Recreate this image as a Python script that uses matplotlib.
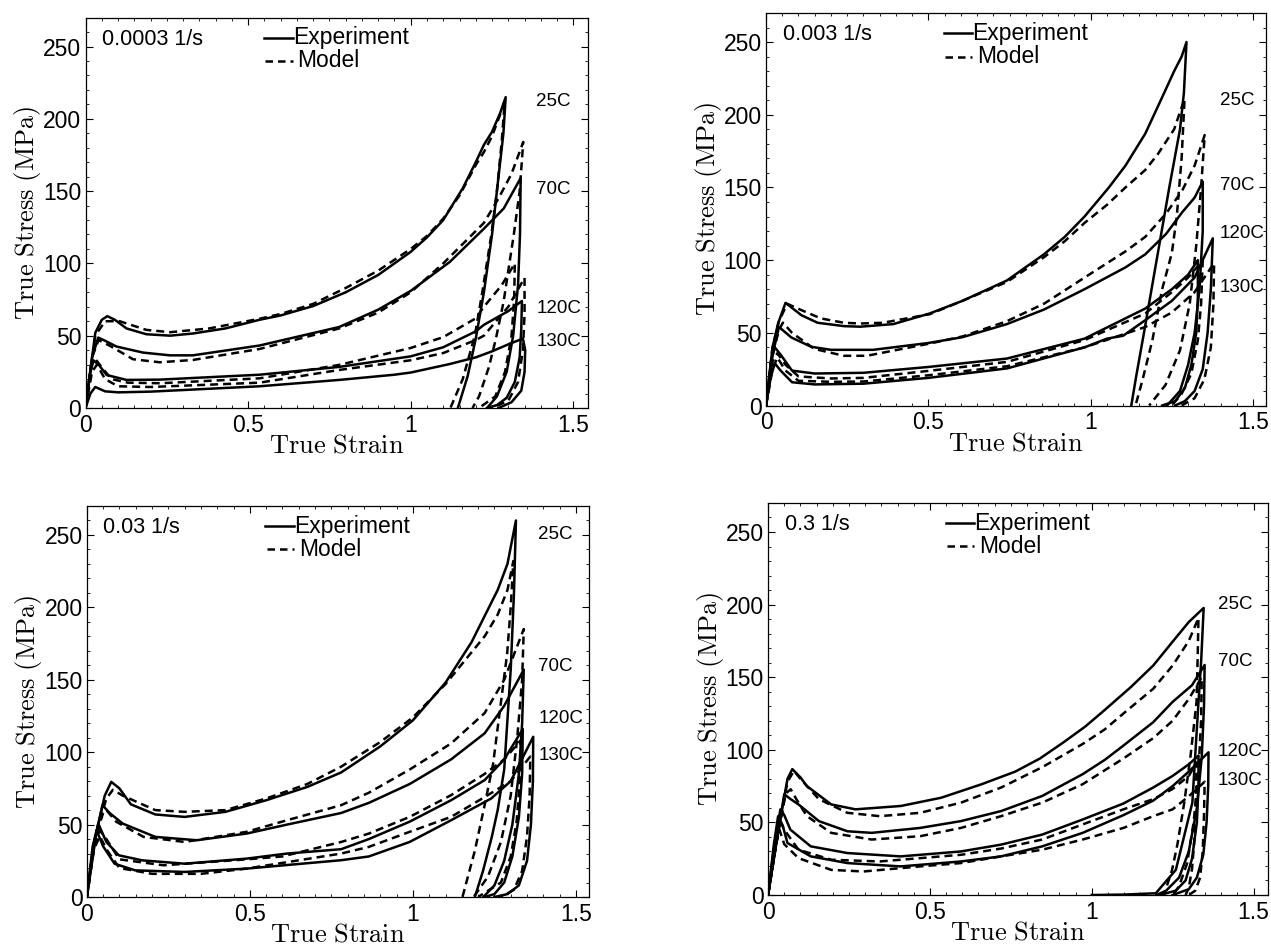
import matplotlib
matplotlib.use("Agg")
import matplotlib.pyplot as plt
from matplotlib.ticker import MultipleLocator
from matplotlib.transforms import blended_transform_factory

plt.rcParams["font.family"] = ["Liberation Sans", "DejaVu Sans"]
plt.rcParams["mathtext.fontset"] = "cm"

RATES = ["0.0003 1/s", "0.003 1/s", "0.03 1/s", "0.3 1/s"]
TEMPS = ["25C", "70C", "120C", "130C"]

# ── 0.0003 1/s ───────────────────────────────────────────────────────────────
P1_EXP_25C = [(0, 0), (0.03, 52), (0.05, 61), (0.067, 63.5), (0.09, 61), (0.126, 55), (0.187, 51),
              (0.26, 50), (0.33, 51.5), (0.43, 55), (0.535, 61), (0.6, 64), (0.7, 70.5), (0.8, 80),
              (0.9, 92), (1.0, 108), (1.05, 118), (1.1, 130), (1.16, 152), (1.2, 170), (1.225, 182),
              (1.25, 191), (1.275, 204), (1.292, 215),
              (1.285, 190), (1.27, 160), (1.25, 120), (1.225, 80), (1.2, 48), (1.175, 22), (1.145, 0)]
P1_MOD_25C = [(0, 0), (0.03, 50), (0.06, 60), (0.105, 60), (0.187, 54), (0.26, 52.4), (0.38, 55),
              (0.535, 61.7), (0.6, 65), (0.7, 72), (0.8, 83), (0.9, 95), (1.0, 110), (1.05, 119),
              (1.1, 131), (1.15, 147), (1.2, 168), (1.225, 177), (1.25, 188), (1.275, 203), (1.289, 212),
              (1.28, 185), (1.265, 150), (1.248, 120), (1.22, 80), (1.197, 50), (1.16, 20), (1.122, 0)]
P1_EXP_70C = [(0, 0), (0.02, 35), (0.039, 48.7), (0.06, 46.5), (0.095, 42.5), (0.177, 38.3),
              (0.26, 36.4), (0.33, 36.4), (0.535, 43.2), (0.78, 56), (0.9, 68), (1.0, 81),
              (1.12, 101), (1.225, 124), (1.286, 138), (1.338, 159),
              (1.336, 120), (1.33, 85), (1.315, 50), (1.295, 25), (1.265, 8), (1.235, 0)]
P1_MOD_70C = [(0, 0), (0.02, 35), (0.04, 47), (0.075, 43), (0.146, 33.7), (0.228, 31.6), (0.33, 33.2),
              (0.535, 40.8), (0.78, 55), (0.9, 66), (1.0, 80), (1.1, 100), (1.225, 128), (1.27, 145),
              (1.31, 162), (1.346, 184),
              (1.335, 150), (1.317, 120), (1.3, 95), (1.286, 74), (1.262, 48), (1.24, 28), (1.21, 8),
              (1.19, 0)]
P1_EXP_120C = [(0, 0), (0.015, 25), (0.024, 33), (0.04, 30), (0.065, 22.8), (0.126, 19.4), (0.228, 19.6),
               (0.535, 23), (0.78, 28.4), (1.0, 35.7), (1.1, 42), (1.2, 53), (1.225, 57.5), (1.3, 67),
               (1.342, 74),
               (1.34, 55), (1.335, 35), (1.32, 18), (1.295, 7), (1.265, 2), (1.235, 0)]
P1_MOD_120C = [(0, 0), (0.02, 30), (0.03, 34), (0.05, 28), (0.08, 20), (0.13, 17.5), (0.23, 17.1),
               (0.535, 20.5), (0.78, 29.8), (1.0, 41.5), (1.1, 49), (1.2, 62), (1.225, 70), (1.28, 85),
               (1.32, 100),
               (1.318, 75), (1.31, 50), (1.29, 25), (1.26, 8), (1.21, 0)]
P1_EXP_130C = [(0, 0), (0.015, 10), (0.03, 14.5), (0.06, 11.5), (0.1, 10.8), (0.2, 11.3), (0.535, 15),
               (0.78, 19.4), (0.95, 23), (1.0, 24.5), (1.12, 30.4), (1.2, 35), (1.248, 39), (1.3, 44),
               (1.345, 48),
               (1.352, 40), (1.35, 25), (1.34, 12), (1.31, 4), (1.27, 0)]
P1_MOD_130C = [(0, 0), (0.02, 25), (0.035, 30), (0.06, 20), (0.1, 15), (0.2, 14.5), (0.535, 17.5),
               (0.78, 26.3), (1.0, 33), (1.1, 38), (1.2, 47), (1.225, 50), (1.3, 70), (1.35, 90),
               (1.35, 65), (1.345, 40), (1.33, 18), (1.3, 5), (1.25, 0)]

# ── 0.003 1/s ────────────────────────────────────────────────────────────────
P2_EXP_25C = [(0, 0), (0.02, 40), (0.037, 56.4), (0.06, 70.6), (0.109, 62.1), (0.159, 56.9), (0.24, 54.6),
              (0.29, 54.2), (0.392, 56), (0.504, 63.3), (0.605, 72), (0.742, 86), (0.856, 104),
              (0.92, 116), (0.981, 130), (1.056, 150), (1.107, 165), (1.168, 187), (1.22, 212),
              (1.257, 230), (1.28, 240), (1.295, 250),
              (1.287, 215), (1.275, 190), (1.242, 150), (1.203, 100), (1.164, 50), (1.14, 20), (1.125, 0)]
P2_MOD_25C = [(0, 0), (0.02, 40), (0.04, 58), (0.065, 70), (0.109, 65.6), (0.169, 59.9), (0.24, 56.9),
              (0.29, 56.4), (0.36, 56.9), (0.504, 62.8), (0.605, 72), (0.742, 85), (0.856, 102),
              (0.92, 113), (0.981, 125.6), (1.05, 138), (1.107, 150), (1.168, 162), (1.207, 173),
              (1.257, 190), (1.289, 211),
              (1.28, 170), (1.265, 130), (1.25, 105), (1.22, 80), (1.19, 45), (1.16, 18), (1.138, 0)]
P2_EXP_70C = [(0, 0), (0.02, 35), (0.04, 54), (0.078, 46.8), (0.139, 40.4), (0.2, 38.3), (0.33, 38.3),
              (0.5, 43), (0.605, 47), (0.742, 56), (0.856, 66), (0.981, 80), (1.107, 95), (1.168, 104),
              (1.232, 118), (1.282, 133), (1.32, 143), (1.345, 154),
              (1.345, 120), (1.335, 80), (1.32, 50), (1.3, 28), (1.275, 10), (1.235, 0)]
P2_MOD_70C = [(0, 0), (0.02, 35), (0.04, 52), (0.052, 57), (0.08, 50), (0.149, 38.9), (0.24, 34.2),
              (0.31, 34.2), (0.504, 42.6), (0.605, 47.5), (0.742, 58), (0.856, 70), (0.981, 88),
              (1.107, 106), (1.168, 116), (1.232, 132), (1.282, 148), (1.32, 165), (1.351, 186),
              (1.34, 150), (1.325, 110), (1.305, 70), (1.275, 38), (1.23, 14), (1.18, 0)]
P2_EXP_120C = [(0, 0), (0.015, 30), (0.027, 40), (0.045, 35), (0.08, 24), (0.15, 22), (0.3, 22.5),
               (0.5, 26.5), (0.742, 32.3), (0.981, 46), (1.168, 66.7), (1.25, 80), (1.3, 90), (1.33, 100),
               (1.33, 75), (1.325, 50), (1.31, 28), (1.29, 12), (1.26, 3), (1.22, 0)]
P2_MOD_120C = [(0, 0), (0.02, 30), (0.035, 36), (0.06, 28), (0.1, 20), (0.2, 18.6), (0.3, 19),
               (0.5, 23.8), (0.742, 30), (0.981, 45), (1.168, 63.3), (1.25, 78), (1.3, 88), (1.345, 100),
               (1.34, 70), (1.33, 45), (1.31, 22), (1.28, 8), (1.25, 0)]
P2_EXP_130C = [(0, 0), (0.015, 20), (0.027, 29), (0.045, 24), (0.08, 16), (0.15, 14.5), (0.3, 15),
               (0.5, 19), (0.742, 25.5), (0.981, 40), (1.05, 46), (1.1, 48), (1.168, 58.7), (1.25, 72),
               (1.32, 88), (1.376, 115),
               (1.37, 80), (1.36, 50), (1.345, 25), (1.32, 10), (1.29, 3), (1.26, 0)]
P2_MOD_130C = [(0, 0), (0.02, 25), (0.035, 33), (0.06, 24), (0.1, 17), (0.2, 16.3), (0.3, 16.5),
               (0.5, 20.8), (0.742, 27), (0.981, 40), (1.168, 54), (1.25, 64), (1.32, 78), (1.38, 98),
               (1.378, 70), (1.37, 40), (1.35, 18), (1.32, 5), (1.28, 0)]

# ── 0.03 1/s ─────────────────────────────────────────────────────────────────
P3_EXP_25C = [(0, 0), (0.03, 45), (0.055, 70), (0.075, 79.5), (0.1, 75), (0.135, 64), (0.21, 57),
              (0.3, 55.3), (0.425, 58.8), (0.55, 66.8), (0.676, 76), (0.78, 86), (0.9, 104), (1.0, 122),
              (1.1, 148), (1.18, 176), (1.22, 194), (1.26, 212), (1.29, 230), (1.316, 260),
              (1.31, 210), (1.3, 157), (1.28, 88), (1.26, 60), (1.242, 41.5), (1.215, 18), (1.19, 0)]
P3_MOD_25C = [(0, 0), (0.03, 45), (0.06, 68), (0.08, 74), (0.11, 70), (0.21, 60), (0.3, 58.8),
              (0.425, 60), (0.55, 68), (0.676, 78), (0.78, 90), (0.9, 107), (1.0, 124), (1.1, 147),
              (1.22, 180), (1.26, 195), (1.29, 212), (1.308, 232),
              (1.3, 200), (1.289, 168), (1.246, 92), (1.221, 64.5), (1.19, 32), (1.152, 0)]
P3_EXP_70C = [(0, 0), (0.025, 40), (0.048, 63.4), (0.07, 58), (0.11, 50.7), (0.21, 41.5), (0.337, 39.2),
              (0.49, 43.8), (0.614, 50), (0.78, 58), (0.865, 65), (0.99, 78), (1.117, 95), (1.22, 113),
              (1.28, 132), (1.34, 157),
              (1.335, 120), (1.325, 85), (1.305, 50), (1.28, 25), (1.25, 8), (1.216, 0)]
P3_MOD_70C = [(0, 0), (0.025, 40), (0.05, 58), (0.06, 60), (0.09, 52), (0.174, 41.5), (0.3, 38),
              (0.49, 45), (0.614, 53), (0.78, 63.4), (0.865, 72), (0.99, 88), (1.117, 106), (1.22, 127),
              (1.28, 150), (1.34, 185),
              (1.335, 150), (1.32, 110), (1.3, 70), (1.27, 38), (1.23, 14), (1.186, 0)]
P3_EXP_120C = [(0, 0), (0.02, 35), (0.035, 50.7), (0.06, 38), (0.098, 28.8), (0.17, 25.3), (0.3, 23),
               (0.49, 26.5), (0.614, 30), (0.78, 33), (0.865, 40), (0.99, 52), (1.117, 66.8),
               (1.22, 80.7), (1.28, 95), (1.337, 116),
               (1.335, 85), (1.325, 55), (1.305, 28), (1.28, 10), (1.25, 2), (1.22, 0)]
P3_MOD_120C = [(0, 0), (0.02, 35), (0.04, 46), (0.06, 40), (0.1, 26), (0.236, 21.9), (0.49, 26),
               (0.6, 28), (0.78, 38), (0.865, 43.8), (0.99, 55.3), (1.117, 70.3), (1.22, 85),
               (1.28, 95), (1.33, 108),
               (1.328, 80), (1.318, 52), (1.3, 28), (1.27, 10), (1.2, 0)]
P3_EXP_130C = [(0, 0), (0.018, 35), (0.03, 46), (0.05, 35), (0.085, 23), (0.148, 18.4), (0.3, 17.3),
               (0.49, 19.6), (0.78, 25.4), (0.865, 28), (0.99, 38), (1.117, 53), (1.24, 68), (1.3, 80),
               (1.369, 110.6),
               (1.368, 80), (1.362, 50), (1.35, 25), (1.325, 8), (1.29, 2), (1.25, 0)]
P3_MOD_130C = [(0, 0), (0.02, 32), (0.04, 42), (0.06, 33), (0.1, 20), (0.2, 16), (0.35, 16),
               (0.49, 19.6), (0.78, 30), (0.865, 34.6), (0.99, 45), (1.117, 55.3), (1.22, 69), (1.3, 80),
               (1.36, 97),
               (1.358, 70), (1.35, 42), (1.335, 18), (1.31, 5), (1.27, 0)]

# ── 0.3 1/s ──────────────────────────────────────────────────────────────────
P4_EXP_25C = [(0, 0), (0.03, 42), (0.06, 80), (0.075, 86.7), (0.1, 81), (0.12, 75), (0.195, 62.4),
              (0.27, 59), (0.41, 61.3), (0.535, 67), (0.66, 76.3), (0.764, 85), (0.84, 94), (0.912, 105),
              (0.98, 116), (1.038, 127), (1.12, 143), (1.19, 158), (1.252, 175), (1.3, 188), (1.346, 197.7),
              (1.338, 160), (1.33, 133), (1.311, 63.6), (1.26, 17.3), (1.198, 1.2), (1.1, 0.3), (1.0, 0)]
P4_MOD_25C = [(0, 0), (0.03, 42), (0.06, 78), (0.08, 85.5), (0.1, 80), (0.157, 66), (0.245, 56.6),
              (0.345, 54.3), (0.47, 56.6), (0.596, 63.6), (0.72, 74), (0.847, 88), (0.972, 104),
              (1.04, 114), (1.098, 125), (1.19, 142), (1.25, 158), (1.3, 175), (1.33, 190.8),
              (1.327, 160), (1.324, 133), (1.305, 95), (1.286, 63.6), (1.265, 35), (1.248, 17), (1.223, 0)]
P4_EXP_70C = [(0, 0), (0.03, 42), (0.05, 69.4), (0.07, 66), (0.094, 62.4), (0.157, 50.9), (0.245, 43.9),
              (0.32, 42.8), (0.47, 46.2), (0.596, 50.9), (0.72, 57.8), (0.847, 68.2), (0.972, 83.2),
              (1.04, 93), (1.098, 102.9), (1.19, 119), (1.25, 133), (1.31, 144.5), (1.349, 158.4),
              (1.347, 130), (1.34, 95), (1.325, 60), (1.3, 30), (1.27, 12), (1.23, 3), (1.2, 0)]
P4_MOD_70C = [(0, 0), (0.03, 42), (0.055, 70), (0.07, 72.8), (0.09, 65), (0.12, 54.3), (0.195, 42.8),
              (0.32, 38.2), (0.47, 40.5), (0.596, 46.2), (0.72, 54.3), (0.847, 63.6),
              (0.972, 76.3), (1.098, 94), (1.19, 108), (1.25, 120), (1.3, 135), (1.34, 150),
              (1.338, 120), (1.33, 85), (1.315, 50), (1.295, 22), (1.27, 6), (1.25, 0)]
P4_EXP_120C = [(0, 0), (0.02, 35), (0.038, 59), (0.05, 55), (0.069, 45), (0.132, 33.5), (0.245, 28.9),
               (0.41, 26.6), (0.596, 30), (0.72, 34.7), (0.847, 41.6), (0.972, 52),
               (1.098, 63), (1.19, 74), (1.25, 82), (1.3, 90), (1.33, 96),
               (1.33, 75), (1.325, 50), (1.31, 25), (1.29, 10), (1.26, 3), (1.21, 0)]
P4_MOD_120C = [(0, 0), (0.02, 35), (0.035, 52), (0.05, 45), (0.094, 31.2), (0.195, 24.3), (0.345, 23.1),
               (0.596, 27.7), (0.72, 32), (0.847, 38.2), (0.972, 48.6), (1.098, 59),
               (1.19, 66), (1.25, 73), (1.3, 82), (1.324, 91.3),
               (1.322, 65), (1.318, 40), (1.31, 18), (1.3, 5), (1.29, 0)]
P4_EXP_130C = [(0, 0), (0.018, 35), (0.031, 54.3), (0.045, 48), (0.06, 35.8), (0.132, 26.6), (0.245, 22),
               (0.41, 19.7), (0.596, 23.1), (0.72, 26.6), (0.847, 33.5), (0.972, 42.8),
               (1.098, 55), (1.19, 65), (1.25, 75), (1.3, 85), (1.361, 98.3),
               (1.36, 75), (1.355, 50), (1.345, 28), (1.325, 12), (1.3, 4), (1.25, 0)]
P4_MOD_130C = [(0, 0), (0.02, 30), (0.035, 45), (0.05, 35), (0.094, 25.4), (0.195, 17.3), (0.295, 16.2),
               (0.47, 19.7), (0.596, 22), (0.72, 26.6), (0.847, 31.2), (0.972, 38.2),
               (1.098, 46.2), (1.19, 54.3), (1.25, 59), (1.3, 68), (1.349, 78),
               (1.347, 55), (1.343, 30), (1.335, 12), (1.32, 3), (1.3, 0)]

EXP = [
    [P1_EXP_25C, P1_EXP_70C, P1_EXP_120C, P1_EXP_130C],
    [P2_EXP_25C, P2_EXP_70C, P2_EXP_120C, P2_EXP_130C],
    [P3_EXP_25C, P3_EXP_70C, P3_EXP_120C, P3_EXP_130C],
    [P4_EXP_25C, P4_EXP_70C, P4_EXP_120C, P4_EXP_130C],
]
MOD = [
    [P1_MOD_25C, P1_MOD_70C, P1_MOD_120C, P1_MOD_130C],
    [P2_MOD_25C, P2_MOD_70C, P2_MOD_120C, P2_MOD_130C],
    [P3_MOD_25C, P3_MOD_70C, P3_MOD_120C, P3_MOD_130C],
    [P4_MOD_25C, P4_MOD_70C, P4_MOD_120C, P4_MOD_130C],
]

# ── layout (figure fractions / label placement) ──────────────────────────────
AX_POS = [
    [0.0673, 0.5692, 0.3953, 0.4122],
    [0.6027, 0.5718, 0.3934, 0.4145],
    [0.0683, 0.0528, 0.3951, 0.4129],
    [0.6043, 0.0549, 0.3934, 0.4140],
]
XMAX = [1.545, 1.54, 1.54, 1.545]
TEMP_LABEL_X = [0.897, 0.908, 0.899, 0.9]
TEMP_LABEL_Y = [[212, 151, 69, 46], [210, 151, 118, 81], [250, 159, 123, 98], [200, 161, 99, 79]]

DASH = (0, (3.2, 2.0))
LW = 1.8
TICK_FS = 16.5
TEXT_FS = 16.5


def draw_panel(ax, k):
    for path in EXP[k]:
        xs, ys = zip(*path)
        ax.plot(xs, ys, color="black", lw=LW, solid_joinstyle="round")
    for path in MOD[k]:
        xs, ys = zip(*path)
        ax.plot(xs, ys, color="black", lw=LW, linestyle=DASH)

    ax.set_xlim(0, XMAX[k])
    ax.set_ylim(0, 270)
    ax.set_xticks([0, 0.5, 1, 1.5], labels=["0", "0.5", "1", "1.5"])
    ax.set_yticks([0, 50, 100, 150, 200, 250])
    ax.xaxis.set_minor_locator(MultipleLocator(0.05))
    ax.yaxis.set_minor_locator(MultipleLocator(10))
    ax.tick_params(which="both", direction="in", top=True, right=True, labelsize=TICK_FS)
    ax.tick_params(axis="x", pad=4)
    ax.tick_params(axis="y", pad=3)
    ax.tick_params(which="major", length=5, width=0.8)
    ax.tick_params(which="minor", length=2.5, width=0.6)
    for sp in ax.spines.values():
        sp.set_linewidth(0.9)

    ax.set_xlabel(r"$\mathrm{True\ Strain}$", fontsize=19, labelpad=-2)
    ax.set_ylabel(r"$\mathrm{True\ Stress\ (MPa)}$", fontsize=19, labelpad=0)

    # rate tag and hand-placed legend, like the original MATLAB figure
    ax.text(0.033, 0.945, RATES[k], transform=ax.transAxes, fontsize=15.5, va="center", ha="left")
    ax.plot([0.355, 0.412], [0.948, 0.948], transform=ax.transAxes, color="black", lw=LW)
    ax.text(0.413, 0.948, "Experiment", transform=ax.transAxes, fontsize=TEXT_FS,
            va="center", ha="left")
    ax.plot([0.358, 0.412], [0.889, 0.889], transform=ax.transAxes, color="black", lw=LW,
            linestyle=(0, (3.0, 2.0)))
    ax.text(0.422, 0.889, "Model", transform=ax.transAxes, fontsize=TEXT_FS,
            va="center", ha="left")

    trans = blended_transform_factory(ax.transAxes, ax.transData)
    for name, y in zip(TEMPS, TEMP_LABEL_Y[k]):
        ax.text(TEMP_LABEL_X[k], y, name, transform=trans, fontsize=13.5, va="center", ha="left")


fig = plt.figure(figsize=(12.71, 9.47), dpi=100)
for k in range(4):
    ax = fig.add_axes(AX_POS[k])
    draw_panel(ax, k)

fig.savefig("out.png", dpi=100)
plt.close(fig)
